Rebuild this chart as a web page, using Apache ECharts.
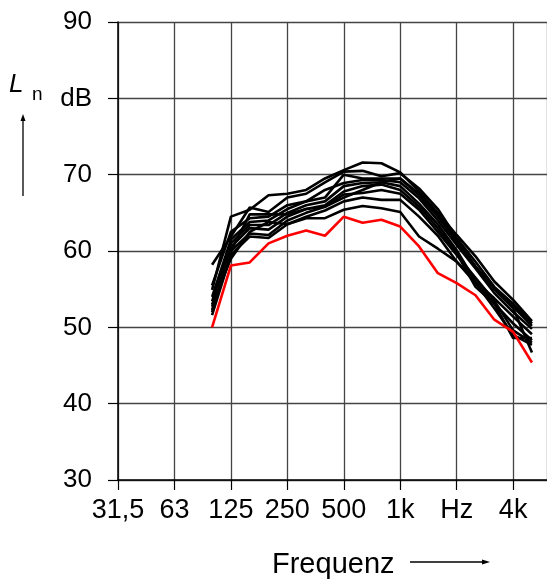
<!DOCTYPE html>
<html>
<head>
<meta charset="utf-8">
<script src="https://cdn.jsdelivr.net/npm/echarts@6/dist/echarts.min.js"></script>
<style>
  html, body { margin: 0; padding: 0; background: #fff; }
  #chart { width: 547px; height: 581px; }
</style>
</head>
<body>
<div id="chart"></div>
<script>
// Third-octave bands (Hz) and their position in thirds of an octave above 31,5 Hz
var bands = ['100', '125', '160', '200', '250', '315', '400', '500', '630', '800',
             '1000', '1250', '1600', '2000', '2500', '3150', '4000', '5000'];
var bandPos = [5, 6, 7, 8, 9, 10, 11, 12, 13, 14, 15, 16, 17, 18, 19, 20, 21, 22];

// Octave tick labels on the frequency axis
var octaveLabels = ['31,5', '63', '125', '250', '500', '1k', 'Hz', '4k'];

// Normalised impact sound levels L_n in dB, one array per measurement
var ln1  = [54.9, 64.5, 65.4, 67.3, 67.5, 68.0, 69.5, 70.6, 71.6, 71.5, 70.3, 67.8, 65.0, 62.1, 59.3, 56.0, 53.6, 50.8];
var ln2  = [58.2, 61.9, 65.7, 65.1, 67.0, 67.5, 69.0, 70.4, 70.5, 69.8, 70.2, 68.2, 65.5, 61.7, 58.6, 55.3, 53.1, 50.5];
var ln3  = [55.5, 62.5, 64.3, 64.5, 66.0, 66.5, 67.0, 70.0, 69.5, 69.5, 69.5, 67.3, 64.5, 61.2, 57.9, 55.1, 52.7, 50.2];
var ln4  = [54.0, 61.5, 63.8, 64.0, 65.5, 66.5, 68.0, 68.9, 69.3, 69.3, 69.0, 66.9, 64.0, 60.8, 57.7, 54.5, 52.0, 49.8];
var ln5  = [53.4, 61.0, 63.4, 63.4, 65.0, 66.0, 66.5, 68.5, 68.9, 69.0, 68.5, 66.2, 63.5, 60.1, 56.0, 53.8, 51.4, 49.1];
var ln6  = [52.7, 60.5, 63.0, 62.8, 64.5, 65.5, 66.0, 67.8, 68.5, 68.7, 68.0, 65.8, 63.0, 59.7, 55.3, 53.1, 50.5, 48.3];
var ln7  = [52.3, 60.0, 62.3, 62.1, 64.0, 65.0, 65.8, 67.4, 67.6, 68.0, 67.5, 65.4, 62.5, 59.5, 56.5, 53.5, 49.6, 48.0];
var ln8  = [51.6, 59.5, 61.9, 61.7, 63.5, 64.5, 65.3, 66.5, 67.0, 66.7, 66.7, 64.5, 62.0, 58.6, 55.8, 52.5, 49.0, 47.7];
var ln9  = [53.0, 59.0, 62.5, 63.8, 63.5, 64.3, 64.3, 65.4, 65.9, 65.6, 65.1, 61.9, 60.3, 58.6, 56.0, 53.1, 48.6, 48.6];
var ln10 = [52.0, 60.0, 64.8, 64.8, 64.8, 65.5, 65.8, 67.0, 68.0, 69.0, 69.5, 67.5, 64.8, 61.5, 58.0, 55.0, 52.5, 46.7];
var lnRed = [50.0, 58.1, 58.5, 61.0, 62.0, 62.7, 62.0, 64.5, 63.7, 64.1, 63.2, 60.6, 57.1, 55.8, 54.2, 51.0, 49.4, 45.4];

// Level axis ticks
var levelMin = 30, levelMax = 90, levelStep = 10;

var blackSets = [ln1, ln2, ln3, ln4, ln5, ln6, ln7, ln8, ln9, ln10];

function toPoints(values) {
  return values.map(function (v, i) { return [bandPos[i], v]; });
}

var series = blackSets.map(function (vals, k) {
  return {
    type: 'line', name: 'L' + (k + 1), data: toPoints(vals),
    showSymbol: false, symbol: 'none', silent: true,
    lineStyle: { color: '#000', width: 2.6 }, z: 3
  };
});
series.push({
  type: 'line', name: 'red', data: toPoints(lnRed),
  showSymbol: false, symbol: 'none', silent: true,
  lineStyle: { color: '#ff0000', width: 2.6 }, z: 4
});

var font = 'Liberation Sans, Arial, sans-serif';

var chart = echarts.init(document.getElementById('chart'), null, { renderer: 'canvas' });
chart.setOption({
  animation: false,
  backgroundColor: '#fff',
  grid: { left: 118, right: 0, top: 22, bottom: 101, containLabel: false },
  xAxis: {
    type: 'value', min: 0, max: 22.8, interval: 3,
    axisLine: { show: true, onZero: false, lineStyle: { color: '#000', width: 1.5 } },
    axisTick: { show: true, length: 10, lineStyle: { color: '#000', width: 1.2 } },
    splitLine: { show: true, lineStyle: { color: '#444', width: 1.3 } },
    axisLabel: {
      margin: 17, color: '#000', fontSize: 27, fontFamily: font,
      showMaxLabel: false,
      formatter: function (v) {
        var idx = v / 3;
        return (Math.abs(idx - Math.round(idx)) < 1e-6 && octaveLabels[Math.round(idx)] !== undefined)
          ? octaveLabels[Math.round(idx)] : '';
      }
    }
  },
  yAxis: {
    type: 'value', min: levelMin, max: levelMax, interval: levelStep,
    axisLine: { show: true, lineStyle: { color: '#000', width: 1.5 } },
    axisTick: { show: true, length: 10, lineStyle: { color: '#000', width: 1.2 } },
    splitLine: { show: true, lineStyle: { color: '#444', width: 1.3 } },
    axisLabel: {
      margin: 26, color: '#000', fontSize: 26, fontFamily: font,
      padding: [4, 0, 0, 0],
      formatter: function (v) { return v === 80 ? 'dB' : String(v); }
    }
  },
  graphic: [
    // level quantity symbol
    { type: 'text', x: 9, y: 98, style: { text: 'L', font: 'italic 26px ' + font, fill: '#000', verticalAlign: 'bottom' } },
    { type: 'text', x: 32, y: 104, style: { text: 'n', font: '19px ' + font, fill: '#000', verticalAlign: 'bottom' } },
    { type: 'line', shape: { x1: 23, y1: 196, x2: 23, y2: 119 }, style: { stroke: '#000', lineWidth: 1.3 } },
    { type: 'polygon', shape: { points: [[23, 114], [20.5, 121], [25.5, 121]] }, style: { fill: '#000' } },
    // frequency axis caption
    { type: 'text', x: 272, y: 565, style: { text: 'Frequenz', font: '29px ' + font, fill: '#000', verticalAlign: 'middle' } },
    { type: 'line', shape: { x1: 410, y1: 562, x2: 484, y2: 562 }, style: { stroke: '#000', lineWidth: 1.3 } },
    { type: 'polygon', shape: { points: [[490, 562], [482, 559.5], [482, 564.5]] }, style: { fill: '#000' } }
  ],
  series: series
});
</script>
</body>
</html>
